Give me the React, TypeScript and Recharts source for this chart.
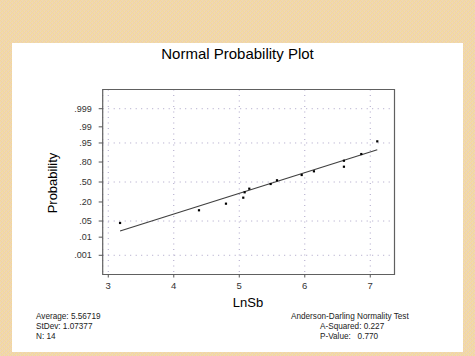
import React from "react";
import {
  ComposedChart,
  Scatter,
  Line,
  XAxis,
  YAxis,
  CartesianGrid,
  ReferenceArea,
} from "recharts";

const lnSb = [3.18, 4.385, 4.797, 5.061, 5.082, 5.153, 5.479, 5.576, 5.953, 6.14, 6.598, 6.598, 6.863, 7.107];
const normScores = [-1.727, -1.192, -0.914, -0.661, -0.434, -0.282, -0.084, 0.072, 0.295, 0.451, 0.644, 0.897, 1.179, 1.714];

// fitted line end points
const fitX = [3.18, 7.107];
const fitZ = [-2.064, 1.361];

const xTicks = [3, 4, 5, 6, 7];
const probLabels = [".001", ".01", ".05", ".20", ".50", ".80", ".95", ".99", ".999"];
const probScores = [-3.09, -2.326, -1.645, -0.842, 0, 0.842, 1.645, 2.326, 3.09];

const xDomain = [2.915, 7.37];
const zDomain = [-3.9, 3.9];

const summaryLeft = ["Average: 5.56719", "StDev: 1.07377", "N: 14"];
const summaryRight = ["Anderson-Darling Normality Test", "A-Squared: 0.227", "P-Value:   0.770"];

const points = lnSb.map((x, i) => ({ x, z: normScores[i] }));
const fitLine = fitX.map((x, i) => ({ x, z: fitZ[i] }));

const FONT = "'Liberation Sans', Arial, sans-serif";

// dithered paper tile for the page background
const tile = [
  ["#f6cfa6", "#efe0a4", "#f2d2b4", "#e8dcae"],
  ["#efe0a4", "#f5c9ae", "#e9dcb8", "#f7d49c"],
  ["#f2d2b4", "#e8dcae", "#f6cfa6", "#efe0a4"],
  ["#e9dcb8", "#f7d49c", "#efe0a4", "#f5c9ae"],
];

const Dot = (props: any) => (
  <rect x={props.cx - 1.1} y={props.cy - 1.1} width={2.2} height={2.2} fill="#000" />
);

export default function App() {
  return (
    <div
      style={{
        position: "fixed",
        left: 0,
        top: 0,
        width: 475,
        height: 356,
        fontFamily: FONT,
      }}
    >
      <svg width={475} height={356} style={{ position: "absolute", left: 0, top: 0 }}>
        <defs>
          <pattern id="paper" width={4} height={4} patternUnits="userSpaceOnUse">
            {tile.map((row, r) =>
              row.map((c, k) => <rect key={`${r}-${k}`} x={k} y={r} width={1} height={1} fill={c} />)
            )}
          </pattern>
        </defs>
        <rect width={475} height={356} fill="url(#paper)" />
        <rect x={12} y={43} width={451} height={309} fill="#fff" />
      </svg>
      <div style={{ position: "absolute", left: 0, top: 0 }}>
        <ComposedChart
          width={475}
          height={356}
          margin={{ top: 89.5, right: 80.5, bottom: 61.5, left: 62.7 }}
        >
          <CartesianGrid stroke="#aaa2c6" strokeDasharray="1 4.5" />
          <XAxis
            type="number"
            dataKey="x"
            domain={xDomain}
            ticks={xTicks}
            allowDataOverflow
            height={20}
            axisLine={false}
            tickSize={3}
            tickMargin={5}
            tickLine={{ stroke: "#555" }}
            tick={{ fontSize: 9.5, fill: "#333", fontFamily: FONT }}
          />
          <YAxis
            type="number"
            dataKey="z"
            domain={zDomain}
            ticks={probScores}
            allowDataOverflow
            width={40}
            axisLine={false}
            tickSize={4}
            tickMargin={7}
            tickLine={{ stroke: "#555" }}
            tickFormatter={(v: number) => probLabels[probScores.indexOf(v)]}
            tick={{ fontSize: 9, fill: "#333", fontFamily: FONT }}
          />
          <ReferenceArea
            x1={xDomain[0]}
            x2={xDomain[1]}
            y1={zDomain[0]}
            y2={zDomain[1]}
            fill="none"
            fillOpacity={0}
            stroke="#606060"
            strokeWidth={1.2}
          />
          <Line
            data={fitLine}
            dataKey="z"
            stroke="#404040"
            strokeWidth={1.2}
            dot={false}
            isAnimationActive={false}
          />
          <Scatter data={points} shape={Dot} isAnimationActive={false} />
        </ComposedChart>
      </div>
      <svg
        width={475}
        height={356}
        style={{ position: "absolute", left: 0, top: 0, pointerEvents: "none" }}
        fontFamily={FONT}
      >
        <text x={237.5} y={58.5} fontSize={15} textAnchor="middle" fill="#000">
          Normal Probability Plot
        </text>
        <text
          x={56.8}
          y={183}
          fontSize={13}
          textAnchor="middle"
          fill="#000"
          transform="rotate(-90 56.8 183)"
        >
          Probability
        </text>
        <text x={248} y={307} fontSize={13} textAnchor="middle" fill="#000">
          LnSb
        </text>
        {summaryLeft.map((s, i) => (
          <text key={s} x={36} y={319 + i * 10.2} fontSize={8.2} fill="#222">
            {s}
          </text>
        ))}
        {summaryRight.map((s, i) => (
          <text
            key={s}
            x={i === 0 ? 291 : 320}
            y={319 + i * 10.2}
            fontSize={8.2}
            fill="#222"
            style={{ whiteSpace: "pre" }}
          >
            {s}
          </text>
        ))}
      </svg>
    </div>
  );
}
